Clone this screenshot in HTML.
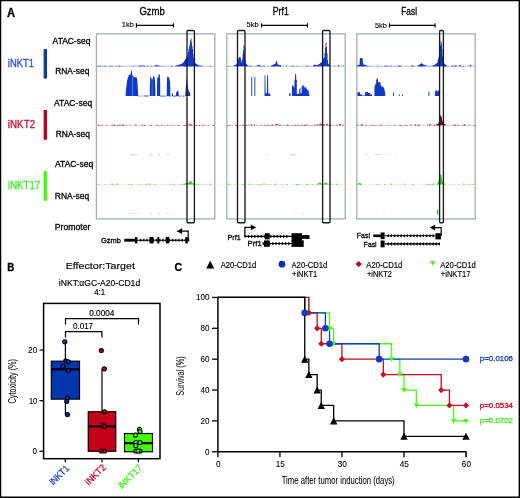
<!DOCTYPE html>
<html><head><meta charset="utf-8"><style>
html,body{margin:0;padding:0;background:#fff;}
body{width:520px;height:498px;overflow:hidden;position:relative;}
svg{position:absolute;left:0;top:0;display:block;will-change:transform;}
text{font-family:"Liberation Sans", sans-serif;}
</style></head><body>
<svg width="520" height="498" viewBox="0 0 520 498">
<rect x="0" y="0" width="520" height="498" fill="#fff"/>
<text x="7.00" y="16.70" font-size="12.4" fill="#000" font-weight="bold" textLength="8.00" lengthAdjust="spacingAndGlyphs" stroke="#000" stroke-width="0.3">A</text>
<text x="7.80" y="66.60" font-size="10.4" fill="#2a52c8" textLength="26.30" lengthAdjust="spacingAndGlyphs" stroke="#2a52c8" stroke-width="0.3">iNKT1</text>
<text x="7.80" y="127.60" font-size="10.4" fill="#c8102e" textLength="27.30" lengthAdjust="spacingAndGlyphs" stroke="#c8102e" stroke-width="0.3">iNKT2</text>
<text x="8.00" y="188.70" font-size="10.4" fill="#3cf01c" textLength="32.20" lengthAdjust="spacingAndGlyphs" stroke="#3cf01c" stroke-width="0.3">iNKT17</text>
<rect x="43.6" y="49" width="3.4" height="29.6" fill="#0a3bb4"/>
<rect x="43.6" y="110" width="3.4" height="29.7" fill="#c6001a"/>
<rect x="43.6" y="171.2" width="3.4" height="29.6" fill="#40ff00"/>
<text x="52.60" y="43.50" font-size="9.1" fill="#000" textLength="37.90" lengthAdjust="spacingAndGlyphs" stroke="#000" stroke-width="0.3">ATAC-seq</text>
<text x="55.20" y="73.70" font-size="9.1" fill="#000" textLength="34.20" lengthAdjust="spacingAndGlyphs" stroke="#000" stroke-width="0.3">RNA-seq</text>
<text x="54.00" y="105.70" font-size="9.1" fill="#000" textLength="38.20" lengthAdjust="spacingAndGlyphs" stroke="#000" stroke-width="0.3">ATAC-seq</text>
<text x="55.80" y="136.70" font-size="9.1" fill="#000" textLength="34.10" lengthAdjust="spacingAndGlyphs" stroke="#000" stroke-width="0.3">RNA-seq</text>
<text x="55.00" y="166.70" font-size="9.1" fill="#000" textLength="38.20" lengthAdjust="spacingAndGlyphs" stroke="#000" stroke-width="0.3">ATAC-seq</text>
<text x="54.80" y="198.70" font-size="9.1" fill="#000" textLength="34.40" lengthAdjust="spacingAndGlyphs" stroke="#000" stroke-width="0.3">RNA-seq</text>
<text x="54.80" y="229.70" font-size="9.1" fill="#000" textLength="35.60" lengthAdjust="spacingAndGlyphs" stroke="#000" stroke-width="0.3">Promoter</text>
<text x="139.40" y="14.90" font-size="10.3" fill="#000" textLength="25.40" lengthAdjust="spacingAndGlyphs" stroke="#000" stroke-width="0.3">Gzmb</text>
<text x="272.70" y="14.90" font-size="10.3" fill="#000" textLength="16.10" lengthAdjust="spacingAndGlyphs" stroke="#000" stroke-width="0.3">Prf1</text>
<text x="401.30" y="14.90" font-size="10.3" fill="#000" textLength="15.70" lengthAdjust="spacingAndGlyphs" stroke="#000" stroke-width="0.3">Fasl</text>
<text x="121.80" y="26.90" font-size="7.4" fill="#000" textLength="12.00" lengthAdjust="spacingAndGlyphs" stroke="#000" stroke-width="0.12">1kb</text>
<path d="M136.4 25.4H173.5M136.4 23.299999999999997V27.5M173.5 23.299999999999997V27.5" stroke="#000" stroke-width="1.15" fill="none"/>
<text x="246.60" y="26.90" font-size="7.4" fill="#000" textLength="12.20" lengthAdjust="spacingAndGlyphs" stroke="#000" stroke-width="0.12">5kb</text>
<path d="M261.5 25.4H307.4M261.5 23.299999999999997V27.5M307.4 23.299999999999997V27.5" stroke="#000" stroke-width="1.15" fill="none"/>
<text x="374.90" y="28.00" font-size="7.4" fill="#000" textLength="12.00" lengthAdjust="spacingAndGlyphs" stroke="#000" stroke-width="0.12">5kb</text>
<path d="M389.5 25.4H435.1M389.5 23.299999999999997V27.5M435.1 23.299999999999997V27.5" stroke="#000" stroke-width="1.15" fill="none"/>
<rect x="96.4" y="33.8" width="118.4" height="185.1" fill="none" stroke="#9fb2a7" stroke-width="1.3"/>
<rect x="226.8" y="33.8" width="118.4" height="185.1" fill="none" stroke="#9fb2a7" stroke-width="1.3"/>
<rect x="356.8" y="33.8" width="118.4" height="185.1" fill="none" stroke="#9fb2a7" stroke-width="1.3"/>
<path d="M97 66.2H214.5" stroke="#1238c4" stroke-width="0.7" opacity="0.45"/>
<path d="M97.00 66.60h1.80v-0.72h-1.80zM99.40 66.60h1.20v-0.99h-1.20zM102.40 66.60h0.60v-0.89h-0.60zM104.20 66.60h1.80v-0.88h-1.80zM109.60 66.60h1.80v-0.75h-1.80zM112.60 66.60h0.60v-0.72h-0.60zM116.20 66.60h0.60v-1.03h-0.60zM118.60 66.60h1.80v-1.21h-1.80zM133.00 66.60h1.20v-0.79h-1.20zM138.40 66.60h1.20v-0.87h-1.20zM143.20 66.60h1.80v-1.15h-1.80zM146.80 66.60h1.20v-0.82h-1.20zM150.40 66.60h1.20v-0.71h-1.20zM154.60 66.60h1.80v-1.19h-1.80zM158.80 66.60h1.80v-0.85h-1.80zM162.40 66.60h0.60v-0.91h-0.60zM170.80 66.60h1.80v-0.90h-1.80zM184.00 66.60h1.80v-0.72h-1.80zM187.00 66.60h0.60v-1.39h-0.60zM189.40 66.60h1.80v-0.72h-1.80zM200.20 66.60h0.60v-1.10h-0.60zM202.00 66.60h0.60v-0.74h-0.60zM203.20 66.60h0.60v-0.70h-0.60zM209.80 66.60h1.20v-0.76h-1.20z" fill="#1238c4" opacity="0.85"/>
<path d="M227 66.2H344.5" stroke="#1238c4" stroke-width="0.7" opacity="0.45"/>
<path d="M228.80 66.60h1.20v-0.71h-1.20zM236.00 66.60h0.60v-1.00h-0.60zM249.80 66.60h1.80v-0.94h-1.80zM260.60 66.60h1.20v-0.71h-1.20zM263.00 66.60h1.80v-0.93h-1.80zM272.60 66.60h1.80v-1.60h-1.80zM279.20 66.60h1.80v-1.52h-1.80zM286.40 66.60h0.60v-1.00h-0.60zM291.80 66.60h1.80v-0.75h-1.80zM296.60 66.60h0.60v-0.88h-0.60zM306.20 66.60h1.80v-0.92h-1.80zM314.00 66.60h0.60v-0.78h-0.60zM334.40 66.60h0.60v-1.15h-0.60zM338.00 66.60h1.20v-1.48h-1.20zM343.40 66.60h0.60v-1.15h-0.60z" fill="#1238c4" opacity="0.85"/>
<path d="M357 66.2H474.5" stroke="#1238c4" stroke-width="0.7" opacity="0.45"/>
<path d="M359.40 66.60h1.20v-0.74h-1.20zM361.80 66.60h1.80v-0.91h-1.80zM366.60 66.60h0.60v-1.54h-0.60zM367.80 66.60h0.60v-0.77h-0.60zM377.40 66.60h0.60v-1.34h-0.60zM384.60 66.60h1.20v-1.44h-1.20zM386.40 66.60h1.20v-1.01h-1.20zM388.80 66.60h0.60v-1.20h-0.60zM390.60 66.60h1.20v-0.73h-1.20zM394.80 66.60h0.60v-0.95h-0.60zM397.20 66.60h1.20v-0.70h-1.20zM399.00 66.60h1.80v-1.24h-1.80zM411.60 66.60h1.80v-1.39h-1.80zM417.60 66.60h1.20v-1.09h-1.20zM421.20 66.60h1.20v-0.71h-1.20zM426.00 66.60h1.20v-0.73h-1.20zM429.60 66.60h1.20v-0.83h-1.20zM432.60 66.60h1.20v-1.63h-1.20zM435.60 66.60h1.20v-0.71h-1.20zM438.00 66.60h0.60v-1.30h-0.60zM444.00 66.60h1.80v-0.75h-1.80zM451.80 66.60h1.80v-1.22h-1.80zM454.80 66.60h1.80v-1.40h-1.80zM462.00 66.60h1.80v-0.70h-1.80z" fill="#1238c4" opacity="0.85"/>
<path d="M175.00 66.20h0.50v-0.39h-0.50zM175.50 66.20h0.50v-0.56h-0.50zM176.00 66.20h0.50v-0.72h-0.50zM176.50 66.20h0.50v-0.86h-0.50zM177.00 66.20h0.50v-1.05h-0.50zM177.50 66.20h0.50v-1.18h-0.50zM178.00 66.20h0.50v-1.32h-0.50zM178.50 66.20h0.50v-1.49h-0.50zM179.00 66.20h0.50v-1.63h-0.50zM179.50 66.20h0.50v-1.75h-0.50zM180.00 66.20h0.50v-1.85h-0.50zM180.50 66.20h0.50v-1.97h-0.50zM181.00 66.20h0.50v-2.12h-0.50zM181.50 66.20h0.50v-2.48h-0.50zM182.00 66.20h0.50v-2.94h-0.50zM182.50 66.20h0.50v-3.30h-0.50zM183.00 66.20h0.50v-3.64h-0.50zM183.50 66.20h0.50v-4.33h-0.50zM184.00 66.20h0.50v-5.27h-0.50zM184.50 66.20h0.50v-5.99h-0.50zM185.00 66.20h0.50v-6.79h-0.50zM185.50 66.20h0.50v-7.37h-0.50zM186.00 66.20h0.50v-7.77h-0.50zM186.50 66.20h0.50v-8.06h-0.50zM187.00 66.20h0.50v-9.20h-0.50zM187.50 66.20h0.50v-11.37h-0.50zM188.00 66.20h0.50v-14.32h-0.50zM188.50 66.20h0.50v-17.45h-0.50zM189.00 66.20h0.50v-19.69h-0.50zM189.50 66.20h0.50v-21.58h-0.50zM190.00 66.20h0.50v-25.77h-0.50zM190.50 66.20h0.50v-27.01h-0.50zM191.00 66.20h0.50v-28.02h-0.50zM191.50 66.20h0.50v-23.53h-0.50zM192.00 66.20h0.50v-20.14h-0.50zM192.50 66.20h0.50v-17.18h-0.50zM193.00 66.20h0.50v-11.86h-0.50zM193.50 66.20h0.50v-8.03h-0.50zM194.00 66.20h0.50v-5.37h-0.50zM194.50 66.20h0.50v-4.33h-0.50zM195.00 66.20h0.50v-3.15h-0.50zM195.50 66.20h0.50v-2.81h-0.50zM196.00 66.20h0.50v-2.36h-0.50zM196.50 66.20h0.50v-2.12h-0.50zM197.00 66.20h0.50v-1.74h-0.50zM197.50 66.20h0.50v-1.56h-0.50zM198.00 66.20h0.50v-1.31h-0.50zM198.50 66.20h0.50v-1.06h-0.50zM199.00 66.20h0.50v-0.89h-0.50zM199.50 66.20h0.50v-0.74h-0.50zM200.00 66.20h0.50v-0.63h-0.50zM200.50 66.20h0.50v-0.50h-0.50z" fill="#1238c4" opacity="1.0"/>
<polygon points="139.00,66.20 139.00,65.60 141.00,65.00 143.00,65.60 143.00,66.20" fill="#1238c4" opacity="0.6"/>
<polygon points="155.00,66.20 155.00,65.50 157.00,64.60 159.00,65.50 159.00,66.20" fill="#1238c4" opacity="0.6"/>
<path d="M233.50 66.20h0.50v-0.56h-0.50zM234.00 66.20h0.50v-0.80h-0.50zM234.50 66.20h0.50v-0.95h-0.50zM235.00 66.20h0.50v-1.20h-0.50zM235.50 66.20h0.50v-1.48h-0.50zM236.00 66.20h0.50v-1.70h-0.50zM236.50 66.20h0.50v-2.41h-0.50zM237.00 66.20h0.50v-3.21h-0.50zM237.50 66.20h0.50v-4.07h-0.50zM238.00 66.20h0.50v-6.61h-0.50zM238.50 66.20h0.50v-8.27h-0.50zM239.00 66.20h0.50v-9.16h-0.50zM239.50 66.20h0.50v-9.01h-0.50zM240.00 66.20h0.50v-9.44h-0.50zM240.50 66.20h0.50v-7.72h-0.50zM241.00 66.20h0.50v-5.68h-0.50zM241.50 66.20h0.50v-4.07h-0.50zM242.00 66.20h0.50v-6.76h-0.50zM242.50 66.20h0.50v-11.41h-0.50zM243.00 66.20h0.50v-16.10h-0.50zM243.50 66.20h0.50v-20.86h-0.50zM244.00 66.20h0.50v-19.59h-0.50zM244.50 66.20h0.50v-13.35h-0.50zM245.00 66.20h0.50v-6.10h-0.50zM245.50 66.20h0.50v-3.01h-0.50zM246.00 66.20h0.50v-2.44h-0.50zM246.50 66.20h0.50v-1.79h-0.50zM247.00 66.20h0.50v-1.17h-0.50zM247.50 66.20h0.50v-1.00h-0.50zM248.00 66.20h0.50v-0.79h-0.50z" fill="#1238c4" opacity="1.0"/>
<path d="M271.00 66.20h0.50v-0.64h-0.50zM271.50 66.20h0.50v-0.90h-0.50zM272.00 66.20h0.50v-1.04h-0.50zM272.50 66.20h0.50v-1.34h-0.50zM273.00 66.20h0.50v-1.56h-0.50zM273.50 66.20h0.50v-1.78h-0.50zM274.00 66.20h0.50v-2.11h-0.50zM274.50 66.20h0.50v-2.33h-0.50zM275.00 66.20h0.50v-2.44h-0.50zM275.50 66.20h0.50v-3.89h-0.50zM276.00 66.20h0.50v-5.38h-0.50zM276.50 66.20h0.50v-5.25h-0.50zM277.00 66.20h0.50v-3.54h-0.50zM277.50 66.20h0.50v-1.72h-0.50zM278.00 66.20h0.50v-1.68h-0.50zM278.50 66.20h0.50v-1.53h-0.50zM279.00 66.20h0.50v-1.52h-0.50zM279.50 66.20h0.50v-1.30h-0.50zM280.00 66.20h0.50v-1.08h-0.50zM280.50 66.20h0.50v-0.80h-0.50z" fill="#1238c4" opacity="1.0"/>
<polygon points="256.50,66.20 256.50,65.60 258.80,64.60 261.00,65.60 261.00,66.20" fill="#1238c4" opacity="0.7"/>
<path d="M313.00 66.20h0.50v-0.56h-0.50zM313.50 66.20h0.50v-1.00h-0.50zM314.00 66.20h0.50v-1.45h-0.50zM314.50 66.20h0.50v-1.59h-0.50zM315.00 66.20h0.50v-1.48h-0.50zM315.50 66.20h0.50v-1.19h-0.50zM316.00 66.20h0.50v-0.97h-0.50zM316.50 66.20h0.50v-1.12h-0.50zM317.00 66.20h0.50v-1.20h-0.50zM317.50 66.20h0.50v-1.31h-0.50zM318.00 66.20h0.50v-1.56h-0.50zM318.50 66.20h0.50v-1.83h-0.50zM319.00 66.20h0.50v-2.26h-0.50zM319.50 66.20h0.50v-2.54h-0.50zM320.00 66.20h0.50v-2.93h-0.50zM320.50 66.20h0.50v-3.33h-0.50zM321.00 66.20h0.50v-3.64h-0.50zM321.50 66.20h0.50v-3.93h-0.50zM322.00 66.20h0.50v-4.23h-0.50zM322.50 66.20h0.50v-5.50h-0.50zM323.00 66.20h0.50v-6.86h-0.50zM323.50 66.20h0.50v-7.83h-0.50zM324.00 66.20h0.50v-9.18h-0.50zM324.50 66.20h0.50v-13.15h-0.50zM325.00 66.20h0.50v-18.54h-0.50zM325.50 66.20h0.50v-23.00h-0.50zM326.00 66.20h0.50v-23.98h-0.50zM326.50 66.20h0.50v-19.12h-0.50zM327.00 66.20h0.50v-12.58h-0.50zM327.50 66.20h0.50v-5.89h-0.50zM328.00 66.20h0.50v-2.63h-0.50zM328.50 66.20h0.50v-1.84h-0.50zM329.00 66.20h0.50v-1.09h-0.50zM329.50 66.20h0.50v-0.83h-0.50z" fill="#1238c4" opacity="1.0"/>
<polygon points="357.00,66.20 357.00,65.30 359.50,64.80 359.90,58.60 360.60,58.00 362.60,58.20 363.20,64.60 365.50,64.80 366.50,65.50 366.50,66.20" fill="#1238c4" opacity="1.0"/>
<path d="M417.50 66.20h0.50v-0.56h-0.50zM418.00 66.20h0.50v-0.82h-0.50zM418.50 66.20h0.50v-1.06h-0.50zM419.00 66.20h0.50v-1.34h-0.50zM419.50 66.20h0.50v-1.61h-0.50zM420.00 66.20h0.50v-2.15h-0.50zM420.50 66.20h0.50v-2.54h-0.50zM421.00 66.20h0.50v-2.67h-0.50zM421.50 66.20h0.50v-3.53h-0.50zM422.00 66.20h0.50v-2.80h-0.50zM422.50 66.20h0.50v-2.23h-0.50zM423.00 66.20h0.50v-1.65h-0.50zM423.50 66.20h0.50v-1.63h-0.50zM424.00 66.20h0.50v-1.41h-0.50zM424.50 66.20h0.50v-1.20h-0.50zM425.00 66.20h0.50v-0.97h-0.50zM425.50 66.20h0.50v-0.76h-0.50z" fill="#1238c4" opacity="1.0"/>
<path d="M433.00 66.20h0.50v-0.54h-0.50zM433.50 66.20h0.50v-0.87h-0.50zM434.00 66.20h0.50v-1.19h-0.50zM434.50 66.20h0.50v-1.65h-0.50zM435.00 66.20h0.50v-1.99h-0.50zM435.50 66.20h0.50v-2.25h-0.50zM436.00 66.20h0.50v-2.59h-0.50zM436.50 66.20h0.50v-3.12h-0.50zM437.00 66.20h0.50v-3.48h-0.50zM437.50 66.20h0.50v-5.62h-0.50zM438.00 66.20h0.50v-7.25h-0.50zM438.50 66.20h0.50v-9.41h-0.50zM439.00 66.20h0.50v-13.33h-0.50zM439.50 66.20h0.50v-17.17h-0.50zM440.00 66.20h0.50v-20.54h-0.50zM440.50 66.20h0.50v-24.91h-0.50zM441.00 66.20h0.50v-24.63h-0.50zM441.50 66.20h0.50v-22.43h-0.50zM442.00 66.20h0.50v-17.25h-0.50zM442.50 66.20h0.50v-9.97h-0.50zM443.00 66.20h0.50v-5.75h-0.50zM443.50 66.20h0.50v-3.59h-0.50zM444.00 66.20h0.50v-2.84h-0.50zM444.50 66.20h0.50v-2.03h-0.50zM445.00 66.20h0.50v-1.77h-0.50zM445.50 66.20h0.50v-1.42h-0.50zM446.00 66.20h0.50v-1.15h-0.50z" fill="#1238c4" opacity="1.0"/>
<polygon points="459.00,66.20 459.00,65.60 460.00,64.40 461.00,65.60 461.00,66.20" fill="#1238c4" opacity="0.8"/>
<polygon points="469.50,66.20 469.50,65.60 470.50,64.60 471.50,65.60 471.50,66.20" fill="#1238c4" opacity="0.8"/>
<polygon points="125.60,96.00 125.60,96.00 126.00,90.00 126.60,84.00 127.30,80.00 128.20,76.80 129.20,74.80 130.40,74.80 131.00,72.00 131.40,70.20 131.90,71.50 132.30,75.20 133.40,76.50 134.40,77.20 136.60,77.20 137.30,80.00 137.80,88.00 138.20,96.00 138.20,96.00" fill="#1238c4" opacity="1.0"/>
<rect x="132.1" y="77" width="0.8" height="19" fill="#6f8fe0"/>
<path d="M138.5 96.0H149.5" stroke="#1238c4" stroke-width="0.7" opacity="0.5"/>
<path d="M138.50 96.40h0.80v-0.73h-0.80zM144.10 96.40h0.80v-0.80h-0.80zM145.70 96.40h2.40v-0.84h-2.40z" fill="#1238c4" opacity="0.85"/>
<polygon points="149.80,96.00 149.80,90.00 150.20,77.00 150.70,76.60 151.30,78.00 152.00,80.00 152.60,79.00 153.20,76.40 153.70,75.70 154.40,77.50 155.00,80.00 155.40,90.00 155.40,96.00" fill="#1238c4" opacity="1.0"/>
<rect x="151.8" y="80" width="0.6" height="16" fill="#6f8fe0"/>
<polygon points="157.00,96.00 157.00,85.00 157.30,77.60 158.40,77.40 158.80,74.50 159.40,73.70 159.90,75.00 160.20,85.00 160.20,96.00" fill="#1238c4" opacity="1.0"/>
<polygon points="166.80,96.00 166.80,85.00 167.10,77.60 167.80,76.60 168.60,77.20 169.40,78.50 170.10,82.00 170.30,90.00 170.30,96.00" fill="#1238c4" opacity="1.0"/>
<path d="M160.5 96.0H185" stroke="#1238c4" stroke-width="0.7" opacity="0.5"/>
<path d="M160.50 96.40h2.40v-0.72h-2.40zM163.70 96.40h1.60v-0.75h-1.60zM169.30 96.40h0.80v-0.73h-0.80zM173.30 96.40h2.40v-0.72h-2.40zM178.90 96.40h1.60v-0.73h-1.60zM182.90 96.40h1.60v-0.70h-1.60z" fill="#1238c4" opacity="0.85"/>
<polygon points="171.80,96.00 171.80,96.00 172.00,93.20 172.80,93.20 173.00,96.00 173.00,96.00" fill="#1238c4" opacity="1.0"/>
<polygon points="175.80,96.00 175.80,96.00 176.10,92.50 176.90,91.80 177.60,90.60 178.50,91.20 178.80,96.00 178.80,96.00" fill="#1238c4" opacity="1.0"/>
<polygon points="185.30,96.00 185.30,96.00 185.70,88.00 186.30,82.00 186.80,77.60 187.30,82.00 187.80,87.00 188.60,91.00 189.40,91.50 190.00,93.00 190.30,96.00 190.30,96.00" fill="#1238c4" opacity="1.0"/>
<rect x="251.3" y="77" width="0.9" height="19" fill="#1238c4"/>
<rect x="254.4" y="77" width="0.9" height="19" fill="#1238c4"/>
<polygon points="264.50,96.00 264.50,96.00 264.60,75.50 265.40,75.30 265.60,93.20 266.90,93.20 267.10,75.20 268.00,75.20 268.30,93.20 270.20,93.80 270.40,96.00 270.40,96.00" fill="#1238c4" opacity="1.0"/>
<polygon points="289.20,96.00 289.20,93.00 290.50,93.00 290.50,96.00" fill="#1238c4" opacity="1.0"/>
<path d="M292.00 96.00h0.60v-10.57h-0.60zM292.60 96.00h0.60v-10.50h-0.60zM293.20 96.00h0.60v-10.09h-0.60zM293.80 96.00h0.60v-8.42h-0.60zM294.40 96.00h0.60v-16.29h-0.60zM295.00 96.00h0.60v-22.85h-0.60zM295.60 96.00h0.60v-20.86h-0.60zM296.20 96.00h0.60v-16.32h-0.60zM296.80 96.00h0.60v-2.03h-0.60zM297.40 96.00h0.60v-2.31h-0.60zM298.00 96.00h0.60v-2.18h-0.60zM298.60 96.00h0.60v-2.27h-0.60zM299.20 96.00h0.60v-6.74h-0.60zM299.80 96.00h0.60v-8.02h-0.60zM300.40 96.00h0.60v-2.63h-0.60zM301.00 96.00h0.60v-2.63h-0.60zM301.60 96.00h0.60v-9.57h-0.60zM302.20 96.00h0.60v-10.46h-0.60zM302.80 96.00h0.60v-9.42h-0.60zM303.40 96.00h0.60v-10.97h-0.60zM304.00 96.00h0.60v-9.25h-0.60zM304.60 96.00h0.60v-8.07h-0.60zM305.20 96.00h0.60v-9.17h-0.60zM305.80 96.00h0.60v-8.54h-0.60zM306.40 96.00h0.60v-6.95h-0.60zM307.00 96.00h0.60v-6.60h-0.60zM307.60 96.00h0.60v-5.42h-0.60zM308.20 96.00h0.60v-5.24h-0.60zM308.80 96.00h0.60v-2.37h-0.60z" fill="#1238c4" opacity="1.0"/>
<polygon points="357.50,96.00 357.50,92.30 360.00,92.30 360.20,94.50 362.00,94.50 362.20,95.50 365.00,95.50 365.10,91.90 368.00,91.90 368.20,93.00 370.00,93.00 370.20,94.50 372.00,94.50 372.00,96.00" fill="#1238c4" opacity="1.0"/>
<path d="M374.40 96.00h0.60v-9.44h-0.60zM375.00 96.00h0.60v-11.12h-0.60zM375.60 96.00h0.60v-12.70h-0.60zM376.20 96.00h0.60v-16.60h-0.60zM376.80 96.00h0.60v-17.87h-0.60zM377.40 96.00h0.60v-16.93h-0.60zM378.00 96.00h0.60v-13.79h-0.60zM378.60 96.00h0.60v-13.99h-0.60zM379.20 96.00h0.60v-13.80h-0.60zM379.80 96.00h0.60v-14.05h-0.60zM380.40 96.00h0.60v-11.25h-0.60zM381.00 96.00h0.60v-10.14h-0.60zM381.60 96.00h0.60v-8.95h-0.60zM382.20 96.00h0.60v-9.45h-0.60zM382.80 96.00h0.60v-9.18h-0.60zM383.40 96.00h0.60v-8.27h-0.60zM384.00 96.00h0.60v-6.98h-0.60zM384.60 96.00h0.60v-4.74h-0.60z" fill="#1238c4" opacity="1.0"/>
<rect x="393.0" y="92.3" width="0.9" height="3.7" fill="#1238c4"/>
<rect x="398.8" y="94.5" width="1.0" height="1.5" fill="#1238c4"/>
<rect x="402.0" y="94.8" width="1.0" height="1.2" fill="#1238c4"/>
<rect x="428.5" y="91.5" width="0.9" height="4.5" fill="#1238c4"/>
<polygon points="434.80,96.00 434.80,96.00 435.20,91.00 436.50,90.00 437.50,91.80 438.60,90.00 439.40,92.50 440.20,96.00 440.20,96.00" fill="#1238c4" opacity="1.0"/>
<path d="M97 125.3H214.5" stroke="#8e2a40" stroke-width="0.7" opacity="0.5" stroke-dasharray="6 1.5 3 2 9 1 4 2.5"/>
<path d="M98.20 125.70h1.20v-1.23h-1.20zM101.80 125.70h0.60v-1.15h-0.60zM106.60 125.70h1.20v-0.82h-1.20zM112.00 125.70h0.60v-0.70h-0.60zM113.20 125.70h1.80v-1.20h-1.80zM116.80 125.70h1.80v-0.80h-1.80zM119.20 125.70h1.20v-1.16h-1.20zM122.20 125.70h1.80v-1.17h-1.80zM124.60 125.70h1.20v-0.75h-1.20zM135.40 125.70h1.20v-1.48h-1.20zM142.00 125.70h0.60v-1.25h-0.60zM143.80 125.70h1.20v-0.72h-1.20zM149.80 125.70h0.60v-0.86h-0.60zM151.00 125.70h0.60v-0.71h-0.60zM156.40 125.70h1.20v-0.72h-1.20zM161.20 125.70h1.20v-0.99h-1.20zM165.40 125.70h0.60v-0.73h-0.60zM167.20 125.70h0.60v-1.44h-0.60zM169.60 125.70h0.60v-0.76h-0.60zM172.60 125.70h0.60v-0.90h-0.60zM177.40 125.70h1.80v-0.73h-1.80zM183.40 125.70h1.80v-0.76h-1.80zM185.80 125.70h1.80v-1.02h-1.80zM189.40 125.70h0.60v-0.82h-0.60zM190.60 125.70h1.80v-0.76h-1.80zM195.40 125.70h1.80v-0.82h-1.80zM199.00 125.70h1.20v-0.70h-1.20zM202.60 125.70h1.20v-0.71h-1.20zM212.20 125.70h1.80v-0.70h-1.80z" fill="#8e2a40" opacity="0.8"/>
<path d="M227 125.3H344.5" stroke="#8e2a40" stroke-width="0.7" opacity="0.5" stroke-dasharray="6 1.5 3 2 9 1 4 2.5"/>
<path d="M227.00 125.70h1.20v-0.70h-1.20zM229.40 125.70h0.60v-0.85h-0.60zM234.80 125.70h1.80v-0.71h-1.80zM239.60 125.70h0.60v-0.70h-0.60zM242.60 125.70h1.20v-1.05h-1.20zM245.00 125.70h1.80v-0.77h-1.80zM248.60 125.70h0.60v-1.21h-0.60zM251.00 125.70h1.20v-1.50h-1.20zM254.00 125.70h1.20v-1.47h-1.20zM261.20 125.70h1.20v-0.94h-1.20zM264.20 125.70h1.80v-0.75h-1.80zM267.20 125.70h1.80v-0.98h-1.80zM271.40 125.70h1.80v-1.02h-1.80zM279.20 125.70h1.80v-0.82h-1.80zM283.40 125.70h1.20v-0.70h-1.20zM287.00 125.70h1.20v-1.22h-1.20zM291.80 125.70h1.20v-0.71h-1.20zM294.80 125.70h1.80v-0.88h-1.80zM297.20 125.70h1.80v-0.72h-1.80zM301.40 125.70h1.20v-0.93h-1.20zM303.80 125.70h1.80v-0.70h-1.80zM306.20 125.70h1.20v-1.57h-1.20zM311.60 125.70h1.20v-0.81h-1.20zM314.00 125.70h1.20v-1.04h-1.20zM316.40 125.70h1.20v-1.54h-1.20zM320.00 125.70h0.60v-0.70h-0.60zM323.00 125.70h1.80v-1.49h-1.80zM329.60 125.70h1.80v-0.95h-1.80zM336.20 125.70h1.20v-0.96h-1.20zM339.20 125.70h1.80v-1.58h-1.80zM342.20 125.70h1.20v-1.23h-1.20z" fill="#8e2a40" opacity="0.8"/>
<path d="M357 125.3H474.5" stroke="#8e2a40" stroke-width="0.7" opacity="0.5" stroke-dasharray="6 1.5 3 2 9 1 4 2.5"/>
<path d="M357.00 125.70h0.60v-1.20h-0.60zM361.20 125.70h1.80v-1.54h-1.80zM365.40 125.70h1.80v-0.78h-1.80zM369.60 125.70h0.60v-0.82h-0.60zM372.00 125.70h1.20v-0.70h-1.20zM375.00 125.70h0.60v-0.81h-0.60zM379.20 125.70h1.20v-1.05h-1.20zM381.60 125.70h0.60v-1.49h-0.60zM385.80 125.70h0.60v-0.76h-0.60zM393.60 125.70h0.60v-1.43h-0.60zM397.20 125.70h0.60v-0.72h-0.60zM399.60 125.70h1.80v-0.74h-1.80zM405.60 125.70h1.80v-0.70h-1.80zM410.40 125.70h1.20v-0.87h-1.20zM414.60 125.70h1.20v-1.59h-1.20zM417.60 125.70h1.80v-1.21h-1.80zM427.20 125.70h0.60v-1.48h-0.60zM429.00 125.70h1.80v-1.44h-1.80zM433.80 125.70h1.80v-0.84h-1.80zM436.80 125.70h1.80v-1.35h-1.80zM451.20 125.70h0.60v-0.70h-0.60zM453.00 125.70h0.60v-0.72h-0.60zM454.20 125.70h1.80v-1.13h-1.80zM457.20 125.70h1.20v-1.01h-1.20zM462.60 125.70h0.60v-0.74h-0.60zM463.80 125.70h1.80v-1.35h-1.80zM469.20 125.70h0.60v-1.22h-0.60zM471.60 125.70h0.60v-0.86h-0.60zM474.00 125.70h1.80v-0.77h-1.80z" fill="#8e2a40" opacity="0.8"/>
<path d="M436.00 125.30h0.50v-0.45h-0.50zM436.50 125.30h0.50v-0.76h-0.50zM437.00 125.30h0.50v-1.08h-0.50zM437.50 125.30h0.50v-1.40h-0.50zM438.00 125.30h0.50v-1.75h-0.50zM438.50 125.30h0.50v-3.40h-0.50zM439.00 125.30h0.50v-5.11h-0.50zM439.50 125.30h0.50v-7.59h-0.50zM440.00 125.30h0.50v-9.29h-0.50zM440.50 125.30h0.50v-10.45h-0.50zM441.00 125.30h0.50v-9.16h-0.50zM441.50 125.30h0.50v-7.87h-0.50zM442.00 125.30h0.50v-5.37h-0.50zM442.50 125.30h0.50v-3.62h-0.50zM443.00 125.30h0.50v-2.20h-0.50zM443.50 125.30h0.50v-1.57h-0.50zM444.00 125.30h0.50v-1.39h-0.50zM444.50 125.30h0.50v-1.14h-0.50zM445.00 125.30h0.50v-0.91h-0.50zM445.50 125.30h0.50v-0.71h-0.50z" fill="#6e0c1c" opacity="1.0"/>
<polygon points="318.50,125.30 318.50,124.80 320.50,123.20 322.50,124.80 322.50,125.30" fill="#8a2030" opacity="0.8"/>
<polygon points="325.50,125.30 325.50,124.80 327.00,123.40 328.50,124.80 328.50,125.30" fill="#8a2030" opacity="0.8"/>
<polygon points="275.00,125.30 275.00,124.80 277.00,123.50 279.00,124.80 279.00,125.30" fill="#8a2030" opacity="0.7"/>
<polygon points="188.50,125.30 188.50,124.80 190.30,123.60 192.00,124.80 192.00,125.30" fill="#8a2030" opacity="0.7"/>
<path d="M129.5 154.7H137.5" stroke="#d8a0b0" stroke-width="0.7" opacity="0.8"/>
<path d="M149 154.7H153" stroke="#d8a0b0" stroke-width="0.7" opacity="0.8"/>
<path d="M158 154.7H160" stroke="#d8a0b0" stroke-width="0.7" opacity="0.8"/>
<path d="M167 154.7H169" stroke="#d8a0b0" stroke-width="0.7" opacity="0.8"/>
<path d="M290 154.7H296" stroke="#d8a0b0" stroke-width="0.7" opacity="0.8"/>
<path d="M266 154.7H268" stroke="#d8a0b0" stroke-width="0.7" opacity="0.6"/>
<path d="M365 154.5H366.5" stroke="#d8a0b0" stroke-width="0.7" opacity="0.8"/>
<path d="M375 154.5H380" stroke="#d8a0b0" stroke-width="0.7" opacity="0.8"/>
<path d="M385 154.5H386" stroke="#d8a0b0" stroke-width="0.7" opacity="0.8"/>
<path d="M390 154.5H391" stroke="#d8a0b0" stroke-width="0.7" opacity="0.8"/>
<path d="M395 154.5H396" stroke="#d8a0b0" stroke-width="0.7" opacity="0.8"/>
<path d="M97 184.5H214.5" stroke="#49d636" stroke-width="0.7" opacity="0.35" stroke-dasharray="5 2 2 3 7 2 3 2.5"/>
<path d="M97.60 184.90h1.20v-0.89h-1.20zM104.80 184.90h1.80v-0.74h-1.80zM111.40 184.90h1.80v-1.39h-1.80zM116.20 184.90h1.80v-1.35h-1.80zM128.20 184.90h1.20v-0.85h-1.20zM130.60 184.90h1.80v-0.87h-1.80zM139.60 184.90h0.60v-0.79h-0.60zM142.60 184.90h0.60v-1.05h-0.60zM145.60 184.90h1.20v-0.72h-1.20zM149.80 184.90h1.20v-1.36h-1.20zM154.60 184.90h1.20v-0.83h-1.20zM160.00 184.90h0.60v-1.14h-0.60zM170.20 184.90h1.20v-1.09h-1.20zM173.80 184.90h1.20v-0.84h-1.20zM184.00 184.90h0.60v-0.94h-0.60zM197.80 184.90h1.20v-1.07h-1.20zM203.20 184.90h0.60v-0.83h-0.60zM209.20 184.90h1.80v-1.14h-1.80z" fill="#49d636" opacity="0.8"/>
<path d="M227 184.5H344.5" stroke="#49d636" stroke-width="0.7" opacity="0.35" stroke-dasharray="5 2 2 3 7 2 3 2.5"/>
<path d="M228.20 184.90h1.80v-1.18h-1.80zM242.60 184.90h1.20v-0.81h-1.20zM248.60 184.90h1.20v-1.12h-1.20zM251.60 184.90h1.20v-0.77h-1.20zM257.60 184.90h1.20v-0.77h-1.20zM259.40 184.90h1.20v-0.96h-1.20zM267.20 184.90h0.60v-0.71h-0.60zM269.00 184.90h0.60v-0.86h-0.60zM274.40 184.90h1.80v-1.08h-1.80zM286.40 184.90h1.80v-0.78h-1.80zM296.00 184.90h1.80v-0.80h-1.80zM298.40 184.90h1.80v-0.70h-1.80zM306.20 184.90h1.80v-1.11h-1.80zM312.20 184.90h1.20v-0.79h-1.20zM326.00 184.90h0.60v-1.11h-0.60zM331.40 184.90h1.20v-0.73h-1.20zM336.20 184.90h1.20v-1.06h-1.20zM338.60 184.90h0.60v-0.73h-0.60z" fill="#49d636" opacity="0.8"/>
<path d="M357 184.5H474.5" stroke="#49d636" stroke-width="0.7" opacity="0.35" stroke-dasharray="5 2 2 3 7 2 3 2.5"/>
<path d="M360.00 184.90h1.80v-0.96h-1.80zM376.20 184.90h1.20v-0.71h-1.20zM378.00 184.90h1.20v-0.96h-1.20zM384.00 184.90h1.20v-0.95h-1.20zM390.60 184.90h1.80v-1.32h-1.80zM403.80 184.90h1.20v-1.21h-1.20zM412.80 184.90h1.80v-0.70h-1.80zM427.20 184.90h1.80v-0.84h-1.80zM429.60 184.90h1.80v-0.72h-1.80zM432.60 184.90h1.80v-1.28h-1.80zM457.80 184.90h0.60v-0.73h-0.60zM463.20 184.90h1.20v-1.38h-1.20zM468.60 184.90h1.20v-0.99h-1.20zM472.20 184.90h1.80v-0.73h-1.80z" fill="#49d636" opacity="0.8"/>
<path d="M180.00 184.50h0.50v-0.28h-0.50zM180.50 184.50h0.50v-0.37h-0.50zM181.00 184.50h0.50v-0.41h-0.50zM181.50 184.50h0.50v-0.51h-0.50zM182.00 184.50h0.50v-0.59h-0.50zM182.50 184.50h0.50v-0.64h-0.50zM183.00 184.50h0.50v-0.71h-0.50zM183.50 184.50h0.50v-0.77h-0.50zM184.00 184.50h0.50v-0.89h-0.50zM184.50 184.50h0.50v-0.92h-0.50zM185.00 184.50h0.50v-1.06h-0.50zM185.50 184.50h0.50v-1.08h-0.50zM186.00 184.50h0.50v-1.25h-0.50zM186.50 184.50h0.50v-1.40h-0.50zM187.00 184.50h0.50v-1.49h-0.50zM187.50 184.50h0.50v-1.66h-0.50zM188.00 184.50h0.50v-1.81h-0.50zM188.50 184.50h0.50v-2.06h-0.50zM189.00 184.50h0.50v-2.38h-0.50zM189.50 184.50h0.50v-3.05h-0.50zM190.00 184.50h0.50v-3.72h-0.50zM190.50 184.50h0.50v-3.94h-0.50zM191.00 184.50h0.50v-3.18h-0.50zM191.50 184.50h0.50v-2.32h-0.50zM192.00 184.50h0.50v-1.49h-0.50zM192.50 184.50h0.50v-1.31h-0.50zM193.00 184.50h0.50v-1.17h-0.50zM193.50 184.50h0.50v-1.04h-0.50zM194.00 184.50h0.50v-0.82h-0.50zM194.50 184.50h0.50v-0.76h-0.50zM195.00 184.50h0.50v-0.69h-0.50zM195.50 184.50h0.50v-0.55h-0.50zM196.00 184.50h0.50v-0.48h-0.50zM196.50 184.50h0.50v-0.39h-0.50z" fill="#3ccf2a" opacity="1.0"/>
<path d="M316.00 184.50h0.50v-0.46h-0.50zM316.50 184.50h0.50v-0.69h-0.50zM317.00 184.50h0.50v-0.82h-0.50zM317.50 184.50h0.50v-1.00h-0.50zM318.00 184.50h0.50v-1.29h-0.50zM318.50 184.50h0.50v-1.46h-0.50zM319.00 184.50h0.50v-1.79h-0.50zM319.50 184.50h0.50v-1.86h-0.50zM320.00 184.50h0.50v-2.24h-0.50zM320.50 184.50h0.50v-1.57h-0.50zM321.00 184.50h0.50v-0.93h-0.50zM321.50 184.50h0.50v-0.91h-0.50zM322.00 184.50h0.50v-0.92h-0.50zM322.50 184.50h0.50v-0.94h-0.50zM323.00 184.50h0.50v-0.90h-0.50zM323.50 184.50h0.50v-0.92h-0.50zM324.00 184.50h0.50v-0.88h-0.50zM324.50 184.50h0.50v-1.33h-0.50zM325.00 184.50h0.50v-1.85h-0.50zM325.50 184.50h0.50v-2.39h-0.50zM326.00 184.50h0.50v-1.87h-0.50zM326.50 184.50h0.50v-1.43h-0.50zM327.00 184.50h0.50v-0.96h-0.50zM327.50 184.50h0.50v-0.85h-0.50zM328.00 184.50h0.50v-0.74h-0.50zM328.50 184.50h0.50v-0.63h-0.50zM329.00 184.50h0.50v-0.51h-0.50zM329.50 184.50h0.50v-0.38h-0.50z" fill="#3ccf2a" opacity="1.0"/>
<path d="M436.00 184.50h0.50v-0.45h-0.50zM436.50 184.50h0.50v-0.83h-0.50zM437.00 184.50h0.50v-1.27h-0.50zM437.50 184.50h0.50v-1.59h-0.50zM438.00 184.50h0.50v-2.53h-0.50zM438.50 184.50h0.50v-4.55h-0.50zM439.00 184.50h0.50v-5.96h-0.50zM439.50 184.50h0.50v-8.43h-0.50zM440.00 184.50h0.50v-9.85h-0.50zM440.50 184.50h0.50v-11.07h-0.50zM441.00 184.50h0.50v-9.40h-0.50zM441.50 184.50h0.50v-7.17h-0.50zM442.00 184.50h0.50v-4.27h-0.50zM442.50 184.50h0.50v-2.69h-0.50zM443.00 184.50h0.50v-2.00h-0.50zM443.50 184.50h0.50v-1.20h-0.50zM444.00 184.50h0.50v-0.97h-0.50zM444.50 184.50h0.50v-0.68h-0.50zM445.00 184.50h0.50v-0.51h-0.50z" fill="#3ccf2a" opacity="1.0"/>
<polygon points="357.00,184.50 357.00,184.20 358.00,183.00 360.50,183.00 361.50,184.20 361.50,184.50" fill="#3ccf2a" opacity="0.9"/>
<polygon points="146.00,184.50 146.00,184.20 148.00,183.40 150.00,184.20 150.00,184.50" fill="#3ccf2a" opacity="0.7"/>
<polygon points="262.00,184.50 262.00,184.20 264.00,183.20 266.00,184.20 266.00,184.50" fill="#3ccf2a" opacity="0.7"/>
<path d="M129.5 213.6H137.5" stroke="#a0eb90" stroke-width="0.7" opacity="0.8"/>
<path d="M150 213.6H152" stroke="#a0eb90" stroke-width="0.7" opacity="0.8"/>
<path d="M158 213.6H160" stroke="#a0eb90" stroke-width="0.7" opacity="0.8"/>
<path d="M167 213.6H169" stroke="#a0eb90" stroke-width="0.7" opacity="0.8"/>
<path d="M172 213.6H173" stroke="#a0eb90" stroke-width="0.7" opacity="0.8"/>
<path d="M293 213.6H295" stroke="#a0eb90" stroke-width="0.7" opacity="0.7"/>
<path d="M302 213.6H304" stroke="#a0eb90" stroke-width="0.7" opacity="0.7"/>
<path d="M383 213.6H385" stroke="#a0eb90" stroke-width="0.7" opacity="0.7"/>
<rect x="436.9" y="209.8" width="1.5" height="4.8" fill="#3ccf2a"/>
<rect x="187.0" y="30.5" width="7.40" height="192.2" rx="1" fill="none" stroke="#1a1a1a" stroke-width="1.35"/>
<rect x="237.5" y="30.5" width="7.50" height="192.2" rx="1" fill="none" stroke="#1a1a1a" stroke-width="1.35"/>
<rect x="322.6" y="30.5" width="7.40" height="192.2" rx="1" fill="none" stroke="#1a1a1a" stroke-width="1.35"/>
<rect x="439.6" y="30.5" width="3.80" height="192.2" rx="1" fill="none" stroke="#1a1a1a" stroke-width="1.35"/>
<text x="101.00" y="242.60" font-size="7.4" fill="#000" textLength="20.00" lengthAdjust="spacingAndGlyphs" stroke="#000" stroke-width="0.3">Gzmb</text>
<path d="M137 240.3H188" stroke="#000" stroke-width="1.1"/>
<path d="M138.92 240.30L141.22 238.50L141.22 242.10ZM142.12 240.30L144.42 238.50L144.42 242.10ZM145.32 240.30L147.62 238.50L147.62 242.10ZM148.52 240.30L150.82 238.50L150.82 242.10ZM151.72 240.30L154.02 238.50L154.02 242.10ZM154.92 240.30L157.22 238.50L157.22 242.10ZM158.12 240.30L160.42 238.50L160.42 242.10ZM161.32 240.30L163.62 238.50L163.62 242.10ZM164.52 240.30L166.82 238.50L166.82 242.10ZM167.72 240.30L170.02 238.50L170.02 242.10ZM170.92 240.30L173.22 238.50L173.22 242.10ZM174.12 240.30L176.42 238.50L176.42 242.10ZM177.32 240.30L179.62 238.50L179.62 242.10ZM180.52 240.30L182.82 238.50L182.82 242.10ZM183.72 240.30L186.02 238.50L186.02 242.10ZM186.92 240.30L189.22 238.50L189.22 242.10Z" fill="#000"/>
<rect x="124.3" y="238.75" width="11.10" height="2.9" fill="#000"/>
<rect x="135" y="237.00" width="2.40" height="6.4" fill="#000"/>
<rect x="149.5" y="237.00" width="4.10" height="6.4" fill="#000"/>
<rect x="157.3" y="236.90" width="2.00" height="6.6" fill="#000"/>
<rect x="165.8" y="237.00" width="3.50" height="6.4" fill="#000"/>
<rect x="185.4" y="237.00" width="2.40" height="6.4" fill="#000"/>
<path d="M188.2 241V231.2H181" stroke="#000" stroke-width="1.2" fill="none"/>
<polygon points="176.6,231.2 182.2,228.3 182.2,234.1" fill="#000"/>
<text x="227.60" y="239.70" font-size="7.6" fill="#000" textLength="13.00" lengthAdjust="spacingAndGlyphs" stroke="#000" stroke-width="0.3">Prf1</text>
<text x="247.50" y="246.20" font-size="7.6" fill="#000" textLength="14.20" lengthAdjust="spacingAndGlyphs" stroke="#000" stroke-width="0.3">Prf1</text>
<path d="M245 236.4H292" stroke="#000" stroke-width="1.1"/>
<path d="M246.92 236.40L244.62 234.60L244.62 238.20ZM250.12 236.40L247.82 234.60L247.82 238.20ZM253.32 236.40L251.02 234.60L251.02 238.20ZM256.52 236.40L254.22 234.60L254.22 238.20ZM259.72 236.40L257.42 234.60L257.42 238.20ZM262.92 236.40L260.62 234.60L260.62 238.20ZM266.12 236.40L263.82 234.60L263.82 238.20ZM269.32 236.40L267.02 234.60L267.02 238.20ZM272.52 236.40L270.22 234.60L270.22 238.20ZM275.72 236.40L273.42 234.60L273.42 238.20ZM278.92 236.40L276.62 234.60L276.62 238.20ZM282.12 236.40L279.82 234.60L279.82 238.20ZM285.32 236.40L283.02 234.60L283.02 238.20ZM288.52 236.40L286.22 234.60L286.22 238.20Z" fill="#000"/>
<path d="M263 243.6H292" stroke="#000" stroke-width="1.1"/>
<path d="M264.92 243.60L262.62 241.80L262.62 245.40ZM268.12 243.60L265.82 241.80L265.82 245.40ZM271.32 243.60L269.02 241.80L269.02 245.40ZM274.52 243.60L272.22 241.80L272.22 245.40ZM277.72 243.60L275.42 241.80L275.42 245.40ZM280.92 243.60L278.62 241.80L278.62 245.40ZM284.12 243.60L281.82 241.80L281.82 245.40ZM287.32 243.60L285.02 241.80L285.02 245.40ZM290.52 243.60L288.22 241.80L288.22 245.40Z" fill="#000"/>
<rect x="264.8" y="233.20" width="4.90" height="6.2" fill="#000"/>
<rect x="264.0" y="240.40" width="5.70" height="6.4" fill="#000"/>
<rect x="291.6" y="233.20" width="10.40" height="8.2" fill="#000"/>
<rect x="291.6" y="240.30" width="12.10" height="6.6" fill="#000"/>
<rect x="302.0" y="235.10" width="7.50" height="3.8" fill="#000"/>
<path d="M244.9 237V227.4H251.5" stroke="#000" stroke-width="1.2" fill="none"/>
<polygon points="256.4,227.4 250.8,224.5 250.8,230.3" fill="#000"/>
<text x="356.80" y="238.40" font-size="7.6" fill="#000" textLength="13.20" lengthAdjust="spacingAndGlyphs" stroke="#000" stroke-width="0.3">Fasl</text>
<text x="363.80" y="246.70" font-size="7.6" fill="#000" textLength="12.80" lengthAdjust="spacingAndGlyphs" stroke="#000" stroke-width="0.3">Fasl</text>
<path d="M384.6 235.8H435.4" stroke="#000" stroke-width="1.1"/>
<path d="M386.52 235.80L388.82 234.00L388.82 237.60ZM389.72 235.80L392.02 234.00L392.02 237.60ZM392.92 235.80L395.22 234.00L395.22 237.60ZM396.12 235.80L398.42 234.00L398.42 237.60ZM399.32 235.80L401.62 234.00L401.62 237.60ZM402.52 235.80L404.82 234.00L404.82 237.60ZM405.72 235.80L408.02 234.00L408.02 237.60ZM408.92 235.80L411.22 234.00L411.22 237.60ZM412.12 235.80L414.42 234.00L414.42 237.60ZM415.32 235.80L417.62 234.00L417.62 237.60ZM418.52 235.80L420.82 234.00L420.82 237.60ZM421.72 235.80L424.02 234.00L424.02 237.60ZM424.92 235.80L427.22 234.00L427.22 237.60ZM428.12 235.80L430.42 234.00L430.42 237.60ZM431.32 235.80L433.62 234.00L433.62 237.60Z" fill="#000"/>
<path d="M384.6 243.9H440" stroke="#000" stroke-width="1.1"/>
<path d="M386.52 243.90L388.82 242.10L388.82 245.70ZM389.72 243.90L392.02 242.10L392.02 245.70ZM392.92 243.90L395.22 242.10L395.22 245.70ZM396.12 243.90L398.42 242.10L398.42 245.70ZM399.32 243.90L401.62 242.10L401.62 245.70ZM402.52 243.90L404.82 242.10L404.82 245.70ZM405.72 243.90L408.02 242.10L408.02 245.70ZM408.92 243.90L411.22 242.10L411.22 245.70ZM412.12 243.90L414.42 242.10L414.42 245.70ZM415.32 243.90L417.62 242.10L417.62 245.70ZM418.52 243.90L420.82 242.10L420.82 245.70ZM421.72 243.90L424.02 242.10L424.02 245.70ZM424.92 243.90L427.22 242.10L427.22 245.70ZM428.12 243.90L430.42 242.10L430.42 245.70ZM431.32 243.90L433.62 242.10L433.62 245.70ZM434.52 243.90L436.82 242.10L436.82 245.70ZM437.72 243.90L440.02 242.10L440.02 245.70Z" fill="#000"/>
<rect x="373.3" y="234.50" width="7.50" height="2.6" fill="#000"/>
<rect x="380.6" y="232.50" width="4.00" height="6.6" fill="#000"/>
<rect x="435.4" y="233.20" width="5.50" height="6.2" fill="#000"/>
<rect x="380.6" y="240.50" width="4.00" height="6.8" fill="#000"/>
<path d="M441.2 236V227.6H434" stroke="#000" stroke-width="1.2" fill="none"/>
<polygon points="429.6,227.6 435.2,224.7 435.2,230.5" fill="#000"/>
<text x="7.20" y="270.90" font-size="11.6" fill="#000" font-weight="bold" textLength="7.10" lengthAdjust="spacingAndGlyphs" stroke="#000" stroke-width="0.3">B</text>
<text x="65.70" y="268.80" font-size="9.9" fill="#000" textLength="69.20" lengthAdjust="spacingAndGlyphs" stroke="#000" stroke-width="0.15">Effector:Target</text>
<text x="58.80" y="286.40" font-size="8.6" fill="#000" textLength="81.40" lengthAdjust="spacingAndGlyphs" stroke="#000" stroke-width="0.15">iNKT:&#945;GC-A20-CD1d</text>
<text x="94.20" y="294.80" font-size="8.6" fill="#000" textLength="11.00" lengthAdjust="spacingAndGlyphs" stroke="#000" stroke-width="0.15">4:1</text>
<rect x="43.6" y="303.4" width="116.4" height="155.3" fill="none" stroke="#000" stroke-width="1.5"/>
<path d="M39.5 350.05H43.5" stroke="#000" stroke-width="1.2"/>
<text x="28.00" y="353.05" font-size="8.9" fill="#000" textLength="9.30" lengthAdjust="spacingAndGlyphs" stroke="#000" stroke-width="0.1">20</text>
<path d="M39.5 400.65H43.5" stroke="#000" stroke-width="1.2"/>
<text x="28.90" y="403.65" font-size="8.9" fill="#000" textLength="8.40" lengthAdjust="spacingAndGlyphs" stroke="#000" stroke-width="0.1">10</text>
<path d="M39.5 451.25H43.5" stroke="#000" stroke-width="1.2"/>
<text x="32.60" y="454.25" font-size="8.9" fill="#000" textLength="4.50" lengthAdjust="spacingAndGlyphs" stroke="#000" stroke-width="0.1">0</text>
<text transform="translate(15.7,403.5) rotate(-90)" font-size="10.4" textLength="44.5" lengthAdjust="spacingAndGlyphs" fill="#000">Cytoxicity (%)</text>
<path d="M65.5 324.4V318.7H138.5V324.4" stroke="#000" stroke-width="1.2" fill="none"/>
<path d="M65.5 337.5V331.7H101.9V337.5" stroke="#000" stroke-width="1.2" fill="none"/>
<text x="89.20" y="316.40" font-size="8.4" fill="#000" textLength="25.20" lengthAdjust="spacingAndGlyphs" stroke="#000" stroke-width="0.15">0.0004</text>
<text x="73.00" y="328.50" font-size="8.4" fill="#000" textLength="20.10" lengthAdjust="spacingAndGlyphs" stroke="#000" stroke-width="0.15">0.017</text>
<path d="M65.4 341.95V361.18M65.4 399.13V414.82" stroke="#000" stroke-width="1.2"/>
<rect x="51.300000000000004" y="361.18" width="28.2" height="37.95" fill="#0037b0" stroke="#000" stroke-width="1.2"/>
<path d="M51.300000000000004 369.28H79.5" stroke="#000" stroke-width="2.2"/>
<circle cx="64.8" cy="341.8" r="2.05" fill="#0037b0" stroke="#000" stroke-width="1.1"/>
<circle cx="65.8" cy="360.8" r="2.05" fill="#0037b0" stroke="#000" stroke-width="1.1"/>
<circle cx="68.3" cy="361.8" r="2.05" fill="#0037b0" stroke="#000" stroke-width="1.1"/>
<circle cx="63.0" cy="366.3" r="2.05" fill="#0037b0" stroke="#000" stroke-width="1.1"/>
<circle cx="68.3" cy="370.5" r="2.05" fill="#0037b0" stroke="#000" stroke-width="1.1"/>
<circle cx="67.5" cy="398.0" r="2.05" fill="#0037b0" stroke="#000" stroke-width="1.1"/>
<circle cx="66.8" cy="401.3" r="2.05" fill="#0037b0" stroke="#000" stroke-width="1.1"/>
<circle cx="67.5" cy="414.6" r="2.05" fill="#0037b0" stroke="#000" stroke-width="1.1"/>
<path d="M102.0 368.77V411.78M102.0 451.25V451.25" stroke="#000" stroke-width="1.2"/>
<rect x="88.25" y="411.78" width="27.5" height="39.47" fill="#c6001a" stroke="#000" stroke-width="1.2"/>
<path d="M88.25 426.46H115.75" stroke="#000" stroke-width="2.2"/>
<circle cx="104.3" cy="368.8" r="2.05" fill="#c6001a" stroke="#000" stroke-width="1.1"/>
<circle cx="104.5" cy="411.8" r="2.05" fill="#c6001a" stroke="#000" stroke-width="1.1"/>
<circle cx="102.5" cy="425.0" r="2.05" fill="#c6001a" stroke="#000" stroke-width="1.1"/>
<circle cx="104.5" cy="426.5" r="2.05" fill="#c6001a" stroke="#000" stroke-width="1.1"/>
<circle cx="101.3" cy="451.0" r="2.05" fill="#c6001a" stroke="#000" stroke-width="1.1"/>
<circle cx="104.5" cy="451.0" r="2.05" fill="#c6001a" stroke="#000" stroke-width="1.1"/>
<circle cx="101.3" cy="350.5" r="2.05" fill="#c6001a" stroke="#000" stroke-width="1.1"/>
<path d="M138.5 429.49V433.54M138.5 451.76V451.76" stroke="#000" stroke-width="1.2"/>
<rect x="124.5" y="433.54" width="28.0" height="18.22" fill="#40ff00" stroke="#000" stroke-width="1.2"/>
<path d="M124.5 443.15H152.5" stroke="#000" stroke-width="2.2"/>
<circle cx="139.5" cy="429.3" r="2.05" fill="#40ff00" stroke="#000" stroke-width="1.1"/>
<circle cx="140.0" cy="431.5" r="2.05" fill="#40ff00" stroke="#000" stroke-width="1.1"/>
<circle cx="135.5" cy="435.0" r="2.05" fill="#40ff00" stroke="#000" stroke-width="1.1"/>
<circle cx="135.8" cy="442.5" r="2.05" fill="#40ff00" stroke="#000" stroke-width="1.1"/>
<circle cx="140.0" cy="442.5" r="2.05" fill="#40ff00" stroke="#000" stroke-width="1.1"/>
<circle cx="135.8" cy="445.5" r="2.05" fill="#40ff00" stroke="#000" stroke-width="1.1"/>
<circle cx="135.8" cy="451.0" r="2.05" fill="#40ff00" stroke="#000" stroke-width="1.1"/>
<circle cx="140.0" cy="451.0" r="2.05" fill="#40ff00" stroke="#000" stroke-width="1.1"/>
<circle cx="138.0" cy="451.0" r="2.05" fill="#40ff00" stroke="#000" stroke-width="1.1"/>
<path d="M65.2 458.5V462.3" stroke="#000" stroke-width="1.2"/>
<path d="M102.0 458.5V462.3" stroke="#000" stroke-width="1.2"/>
<path d="M138.3 458.5V462.3" stroke="#000" stroke-width="1.2"/>
<text transform="translate(69.8,469.0) rotate(-45)" text-anchor="end" font-size="9.4" fill="#1a44c8" stroke="#1a44c8" stroke-width="0.3" textLength="23.5" lengthAdjust="spacingAndGlyphs">iNKT1</text>
<text transform="translate(106.5,468.0) rotate(-45)" text-anchor="end" font-size="9.4" fill="#c8102e" stroke="#c8102e" stroke-width="0.3" textLength="25.0" lengthAdjust="spacingAndGlyphs">iNKT2</text>
<text transform="translate(142.8,468.5) rotate(-45)" text-anchor="end" font-size="9.4" fill="#44ee22" stroke="#44ee22" stroke-width="0.3" textLength="29.5" lengthAdjust="spacingAndGlyphs">iNKT17</text>
<text x="174.60" y="271.30" font-size="11.8" fill="#000" font-weight="bold" textLength="7.70" lengthAdjust="spacingAndGlyphs" stroke="#000" stroke-width="0.3">C</text>
<polygon points="210.2,260.8 214.2,268.4 206.2,268.4" fill="#000"/>
<text x="220.80" y="268.10" font-size="8.3" fill="#000" textLength="35.50" lengthAdjust="spacingAndGlyphs" stroke="#000" stroke-width="0.15">A20-CD1d</text>
<circle cx="282" cy="264.2" r="3.4" fill="#0037b0"/>
<text x="291.50" y="268.10" font-size="8.3" fill="#000" textLength="35.80" lengthAdjust="spacingAndGlyphs" stroke="#000" stroke-width="0.15">A20-CD1d</text>
<text x="292.10" y="277.00" font-size="8.3" fill="#000" textLength="25.00" lengthAdjust="spacingAndGlyphs" stroke="#000" stroke-width="0.15">+iNKT1</text>
<polygon points="358.7,261 361.8,264.1 358.7,267.2 355.6,264.1" fill="#c6001a"/>
<text x="366.30" y="268.10" font-size="8.3" fill="#000" textLength="36.00" lengthAdjust="spacingAndGlyphs" stroke="#000" stroke-width="0.15">A20-CD1d</text>
<text x="366.90" y="277.00" font-size="8.3" fill="#000" textLength="25.00" lengthAdjust="spacingAndGlyphs" stroke="#000" stroke-width="0.15">+iNKT2</text>
<polygon points="429.9,261.1 435.5,261.1 432.7,265.8" fill="#40ff00"/>
<text x="440.20" y="268.10" font-size="8.3" fill="#000" textLength="35.60" lengthAdjust="spacingAndGlyphs" stroke="#000" stroke-width="0.15">A20-CD1d</text>
<text x="440.80" y="277.00" font-size="8.3" fill="#000" textLength="29.60" lengthAdjust="spacingAndGlyphs" stroke="#000" stroke-width="0.15">+iNKT17</text>
<path d="M217.9 296.7V451.75H466.0V457.3" stroke="#000" stroke-width="1.5" fill="none"/>
<path d="M212.0 451.75H217.9" stroke="#000" stroke-width="1.3"/>
<text x="209.60" y="454.50" font-size="8.8" fill="#000" text-anchor="end" textLength="4.50" lengthAdjust="spacingAndGlyphs" stroke="#000" stroke-width="0.08">0</text>
<path d="M212.0 420.89H217.9" stroke="#000" stroke-width="1.3"/>
<text x="209.60" y="423.64" font-size="8.8" fill="#000" text-anchor="end" textLength="9.00" lengthAdjust="spacingAndGlyphs" stroke="#000" stroke-width="0.08">20</text>
<path d="M212.0 390.03H217.9" stroke="#000" stroke-width="1.3"/>
<text x="209.60" y="392.78" font-size="8.8" fill="#000" text-anchor="end" textLength="9.00" lengthAdjust="spacingAndGlyphs" stroke="#000" stroke-width="0.08">40</text>
<path d="M212.0 359.17H217.9" stroke="#000" stroke-width="1.3"/>
<text x="209.60" y="361.92" font-size="8.8" fill="#000" text-anchor="end" textLength="9.00" lengthAdjust="spacingAndGlyphs" stroke="#000" stroke-width="0.08">60</text>
<path d="M212.0 328.31H217.9" stroke="#000" stroke-width="1.3"/>
<text x="209.60" y="331.06" font-size="8.8" fill="#000" text-anchor="end" textLength="9.00" lengthAdjust="spacingAndGlyphs" stroke="#000" stroke-width="0.08">80</text>
<path d="M212.0 297.45H217.9" stroke="#000" stroke-width="1.3"/>
<text x="209.60" y="300.20" font-size="8.8" fill="#000" text-anchor="end" textLength="13.50" lengthAdjust="spacingAndGlyphs" stroke="#000" stroke-width="0.08">100</text>
<path d="M217.90 451.75V457.3" stroke="#000" stroke-width="1.3"/>
<path d="M279.93 451.75V457.3" stroke="#000" stroke-width="1.3"/>
<path d="M341.95 451.75V457.3" stroke="#000" stroke-width="1.3"/>
<path d="M403.98 451.75V457.3" stroke="#000" stroke-width="1.3"/>
<text x="218.30" y="466.60" font-size="9.0" fill="#000" text-anchor="middle" textLength="4.60" lengthAdjust="spacingAndGlyphs" stroke="#000" stroke-width="0.08">0</text>
<text x="280.32" y="466.60" font-size="9.0" fill="#000" text-anchor="middle" textLength="9.20" lengthAdjust="spacingAndGlyphs" stroke="#000" stroke-width="0.08">15</text>
<text x="342.35" y="466.60" font-size="9.0" fill="#000" text-anchor="middle" textLength="9.20" lengthAdjust="spacingAndGlyphs" stroke="#000" stroke-width="0.08">30</text>
<text x="404.38" y="466.60" font-size="9.0" fill="#000" text-anchor="middle" textLength="9.20" lengthAdjust="spacingAndGlyphs" stroke="#000" stroke-width="0.08">45</text>
<text x="466.40" y="466.60" font-size="9.0" fill="#000" text-anchor="middle" textLength="9.20" lengthAdjust="spacingAndGlyphs" stroke="#000" stroke-width="0.08">60</text>
<text transform="translate(183.6,395.7) rotate(-90)" font-size="10.2" textLength="39.3" lengthAdjust="spacingAndGlyphs" fill="#000">Survival (%)</text>
<text x="281.70" y="483.60" font-size="10.2" fill="#000" textLength="113.00" lengthAdjust="spacingAndGlyphs" stroke="#000" stroke-width="0.05">Time after tumor induction (days)</text>
<path d="M217.90 297.45H308.87V312.88H329.55V328.31H333.68V343.74H391.57V359.17H399.84V374.60H403.98V390.03H416.38V405.46H453.60V420.89H466.00" stroke="#44ff11" stroke-width="1.3" fill="none"/>
<path d="M217.90 297.45H308.87V312.88H317.14V328.31H321.27V343.74H341.95V359.17H383.30V374.60H441.19V390.03H449.46V405.46H466.00" stroke="#cc0a22" stroke-width="1.3" fill="none"/>
<path d="M217.90 297.45H304.74V312.88H325.41V328.31H329.55V343.74H379.16V359.17H466.00" stroke="#0f3cc0" stroke-width="1.3" fill="none"/>
<path d="M217.90 297.45H304.74V359.17H308.87V374.60H317.14V390.03H321.27V405.46H333.68V420.89H403.98V436.32H466.00" stroke="#000" stroke-width="1.3" fill="none"/>
<polygon points="306.17,310.88 311.57,310.88 308.87,315.48" fill="#44ff11"/>
<polygon points="326.85,326.31 332.25,326.31 329.55,330.91" fill="#44ff11"/>
<polygon points="330.98,341.74 336.38,341.74 333.68,346.34" fill="#44ff11"/>
<polygon points="388.87,357.17 394.27,357.17 391.57,361.77" fill="#44ff11"/>
<polygon points="397.14,372.60 402.54,372.60 399.84,377.20" fill="#44ff11"/>
<polygon points="401.28,388.03 406.68,388.03 403.98,392.63" fill="#44ff11"/>
<polygon points="413.68,403.46 419.08,403.46 416.38,408.06" fill="#44ff11"/>
<polygon points="450.90,418.89 456.30,418.89 453.60,423.49" fill="#44ff11"/>
<polygon points="463.30,418.89 468.70,418.89 466.00,423.49" fill="#44ff11"/>
<polygon points="308.87,309.78 311.97,312.88 308.87,315.98 305.77,312.88" fill="#cc0a22"/>
<polygon points="317.14,325.21 320.24,328.31 317.14,331.41 314.04,328.31" fill="#cc0a22"/>
<polygon points="321.27,340.64 324.38,343.74 321.27,346.84 318.17,343.74" fill="#cc0a22"/>
<polygon points="341.95,356.07 345.05,359.17 341.95,362.27 338.85,359.17" fill="#cc0a22"/>
<polygon points="383.30,371.50 386.40,374.60 383.30,377.70 380.20,374.60" fill="#cc0a22"/>
<polygon points="441.19,386.93 444.29,390.03 441.19,393.13 438.09,390.03" fill="#cc0a22"/>
<polygon points="449.46,402.36 452.56,405.46 449.46,408.56 446.36,405.46" fill="#cc0a22"/>
<polygon points="466.00,402.36 469.10,405.46 466.00,408.56 462.90,405.46" fill="#cc0a22"/>
<circle cx="304.74" cy="312.88" r="3.3" fill="#0f3cc0"/>
<circle cx="325.41" cy="328.31" r="3.3" fill="#0f3cc0"/>
<circle cx="329.55" cy="343.74" r="3.3" fill="#0f3cc0"/>
<circle cx="379.16" cy="359.17" r="3.3" fill="#0f3cc0"/>
<circle cx="466.00" cy="359.17" r="3.3" fill="#0f3cc0"/>
<polygon points="304.74,355.57 308.44,362.67 301.04,362.67" fill="#000"/>
<polygon points="308.87,371.00 312.57,378.10 305.17,378.10" fill="#000"/>
<polygon points="317.14,386.43 320.84,393.53 313.44,393.53" fill="#000"/>
<polygon points="321.27,401.86 324.97,408.96 317.57,408.96" fill="#000"/>
<polygon points="333.68,417.29 337.38,424.39 329.98,424.39" fill="#000"/>
<polygon points="403.98,432.72 407.68,439.82 400.28,439.82" fill="#000"/>
<polygon points="466.00,432.72 469.70,439.82 462.30,439.82" fill="#000"/>
<text x="479.80" y="361.20" font-size="7.4" fill="#1a44c0" textLength="33.20" lengthAdjust="spacingAndGlyphs" stroke="#1a44c0" stroke-width="0.3">p=0.0106</text>
<text x="479.80" y="407.80" font-size="7.4" fill="#c8102e" textLength="33.20" lengthAdjust="spacingAndGlyphs" stroke="#c8102e" stroke-width="0.3">p=0.0534</text>
<text x="479.80" y="423.00" font-size="7.4" fill="#44ee22" textLength="33.20" lengthAdjust="spacingAndGlyphs" stroke="#44ee22" stroke-width="0.3">p=0.0702</text>
<path d="M0 0H520V1.25H0Z M0 0H1.25V498H0Z M518.6 0H520V498H518.6Z M0 496.5H520V498H0Z" fill="#000"/>
</svg>
</body></html>
